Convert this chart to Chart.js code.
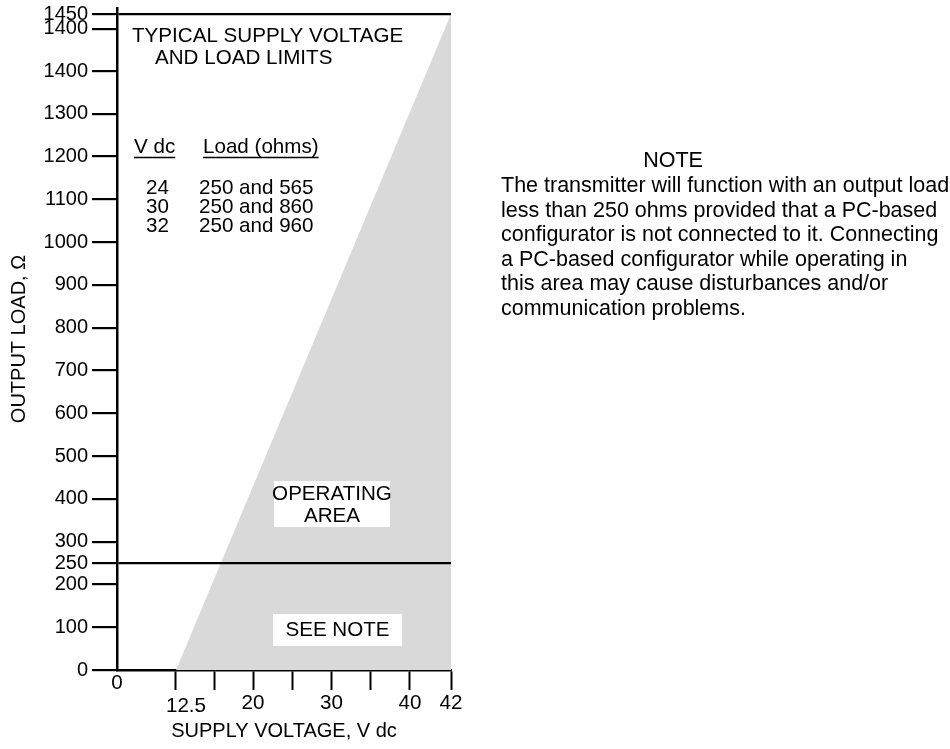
<!DOCTYPE html>
<html>
<head>
<meta charset="utf-8">
<script src="https://cdn.jsdelivr.net/npm/chart.js@4/dist/chart.umd.min.js"></script>
<style>
  html, body { margin: 0; padding: 0; background: #fff; }
  #wrap { position: relative; width: 950px; height: 749px; }
  #wrap canvas { position: absolute; left: 0; top: 0; }
  .note { position: absolute; font-family: "Liberation Sans", Arial, sans-serif; font-size: 21.5px;
          line-height: 24.6px; color: #000; white-space: nowrap; }
</style>
</head>
<body>
<div id="wrap">
  <canvas id="chart" width="950" height="749"></canvas>
  <div class="note" id="noteHead" style="left:573px; top:148px; width:200px; text-align:center;"></div>
  <div class="note" id="noteBody" style="left:501px; top:173px;"></div>
</div>
<script>
// Boundary of the operating area: minimum supply voltage at zero load, rising to the 42 V / 1450 ohm corner
const supplyVolts = [12.5, 42];
const loadLimit   = [0, 1450];

// Axis ticks and their printed labels
const xTickValues = [0, 12.5, 16.25, 20, 25, 30, 35, 40, 42];
const xTickLabels = ['0', '12.5', '', '20', '', '30', '', '40', '42'];
const yTickValues = [0, 100, 200, 250, 300, 400, 500, 600, 700, 800, 900, 1000, 1100, 1200, 1300, 1400, 1437, 1450];
const yTickLabels = ['0', '100', '200', '250', '300', '400', '500', '600', '700', '800', '900', '1000', '1100', '1200', '1300', '1400', '1400', '1450'];

// Typical limits table
const tableVolts = ['24', '30', '32'];
const tableLoads = ['250 and 565', '250 and 860', '250 and 960'];

const noteTitle = 'NOTE';
const noteLines = [
  'The transmitter will function with an output load',
  'less than 250 ohms provided that a PC-based',
  'configurator is not connected to it. Connecting',
  'a PC-based configurator while operating in',
  'this area may cause disturbances and/or',
  'communication problems.'
];

document.getElementById('noteHead').textContent = noteTitle;
document.getElementById('noteBody').innerHTML = noteLines.map(l => l.replace(/&/g, '&amp;').replace(/</g, '&lt;')).join('<br>');

const FAMILY = '"Liberation Sans", Arial, sans-serif';
const FONT = '20.6px ' + FAMILY;

// The printed axes are not evenly graduated: each axis is split into linear segments
// (value -> fraction of the plot length).
const axisStops = {
  x: [[0, 0], [12.5, 0.1766], [20, 0.4072], [40, 0.8772], [42, 1]],
  y: [[0, 0], [1400, 0.9048], [1450, 0.9909], [1455, 1]]
};

class PiecewiseScale extends Chart.LinearScale {
  getPixelForValue(value) {
    const s = axisStops[this.id];
    let i = 1;
    while (i < s.length - 1 && value > s[i][0]) i++;
    const [v0, f0] = s[i - 1];
    const [v1, f1] = s[i];
    return this.getPixelForDecimal(f0 + (value - v0) * (f1 - f0) / (v1 - v0));
  }
  getValueForPixel(pixel) {
    const d = this.getDecimalForPixel(pixel);
    const s = axisStops[this.id];
    let i = 1;
    while (i < s.length - 1 && d > s[i][1]) i++;
    const [v0, f0] = s[i - 1];
    const [v1, f1] = s[i];
    return v0 + (d - f0) * (v1 - v0) / (f1 - f0);
  }
}
PiecewiseScale.id = 'piecewise';
Chart.register(PiecewiseScale);

// Text placed inside the plot plus the irregular x tick labels
const annotations = {
  id: 'annotations',
  afterDraw(chart) {
    const { ctx, scales: { x } } = chart;
    ctx.save();
    ctx.font = FONT;
    ctx.fillStyle = '#000';
    ctx.textBaseline = 'middle';

    // x tick labels
    ctx.textAlign = 'center';
    xTickLabels.forEach((lab, i) => {
      if (!lab) return;
      let px = x.getPixelForValue(xTickValues[i]);
      let py = 703;
      if (i === 0) py = 683;
      if (lab === '12.5') { px += 10; py = 706; }
      ctx.fillText(lab, px, py);
    });

    // heading
    ctx.textAlign = 'left';
    ctx.fillText('TYPICAL SUPPLY VOLTAGE', 132, 36);
    ctx.fillText('AND LOAD LIMITS', 155, 58);

    // table header, underlined
    ctx.lineWidth = 1.5;
    ctx.strokeStyle = '#000';
    [['V dc', 134], ['Load (ohms)', 203]].forEach(([t, lx]) => {
      ctx.fillText(t, lx, 147);
      const w = ctx.measureText(t).width;
      ctx.beginPath();
      ctx.moveTo(lx, 157.5);
      ctx.lineTo(lx + w, 157.5);
      ctx.stroke();
    });
    const rowY = [188, 207, 226];
    tableVolts.forEach((v, i) => {
      ctx.fillText(v, 146, rowY[i]);
      ctx.fillText(tableLoads[i], 199, rowY[i]);
    });

    // region labels on white boxes
    ctx.fillStyle = '#fff';
    ctx.fillRect(274, 481, 116, 46);
    ctx.fillRect(273, 614, 129, 32);
    ctx.fillStyle = '#000';
    ctx.textAlign = 'center';
    ctx.fillText('OPERATING', 332, 494);
    ctx.fillText('AREA', 332, 516);
    ctx.fillText('SEE NOTE', 337.5, 630);
    ctx.restore();
  }
};

new Chart(document.getElementById('chart'), {
  type: 'line',
  data: {
    datasets: [{
      data: supplyVolts.map((v, i) => ({ x: v, y: loadLimit[i] })),
      fill: 'origin',
      backgroundColor: '#d9d9d9',
      borderWidth: 0,
      pointRadius: 0,
      tension: 0
    }]
  },
  options: {
    responsive: false,
    animation: false,
    devicePixelRatio: 1,
    layout: { padding: { top: 8, left: 0, right: 499, bottom: 0 } },
    plugins: { legend: { display: false }, tooltip: { enabled: false } },
    scales: {
      x: {
        type: 'piecewise',
        min: 0,
        max: 42,
        afterBuildTicks: s => { s.ticks = xTickValues.map(v => ({ value: v })); },
        afterFit: s => { s.height = 79; s.paddingLeft = 0; s.paddingRight = 0; },
        grid: {
          drawOnChartArea: false,
          drawTicks: true,
          tickLength: 20,
          tickWidth: 2,
          tickColor: c => (c.tick && c.tick.value === 0) ? 'rgba(0,0,0,0)' : '#000'
        },
        border: { display: true, color: '#000', width: 2.5 },
        ticks: { display: false, autoSkip: false },
        title: {
          display: true,
          text: 'SUPPLY VOLTAGE, V dc',
          color: '#000',
          font: { family: FAMILY, size: 20 },
          padding: { top: 0, bottom: 6 }
        }
      },
      y: {
        type: 'piecewise',
        min: 0,
        max: 1455,
        afterBuildTicks: s => { s.ticks = yTickValues.map(v => ({ value: v })); },
        afterFit: s => { s.width = 117; s.paddingTop = 0; s.paddingBottom = 0; },
        grid: {
          z: 1,
          drawOnChartArea: true,
          color: c => (c.tick && (c.tick.value === 250 || c.tick.value === 1450)) ? '#000' : 'rgba(0,0,0,0)',
          lineWidth: 2.2,
          drawTicks: true,
          tickLength: 25,
          tickWidth: 2.2,
          tickColor: '#000'
        },
        border: { display: true, color: '#000', width: 2.5, z: 1 },
        ticks: {
          autoSkip: false,
          padding: 4,
          color: '#000',
          font: { family: FAMILY, size: 20 },
          callback: (v, i) => yTickLabels[i]
        },
        title: {
          display: true,
          text: 'OUTPUT LOAD, Ω',
          color: '#000',
          font: { family: FAMILY, size: 20 },
          padding: { top: 7, bottom: 0 }
        }
      }
    }
  },
  plugins: [annotations]
});
</script>
</body>
</html>
